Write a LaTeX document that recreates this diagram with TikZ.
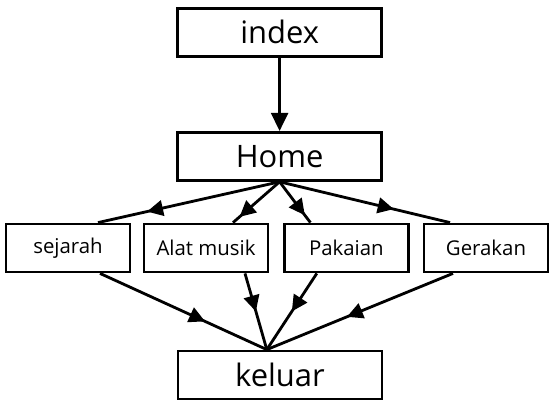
\documentclass[tikz,border=0pt]{standalone}
\usepackage{fontspec}
\setmainfont{Open Sans}
\usepackage{tikz}
\usetikzlibrary{arrows.meta,decorations.markings}

\begin{document}
\begin{tikzpicture}[
    bigbox/.style={rectangle, draw=black, line width=2pt, minimum width=5.1cm, minimum height=1.2cm, text centered, font=\fontsize{22}{24}\selectfont},
    smallbox/.style={rectangle, draw=black, line width=2pt, minimum width=3.1cm, minimum height=1.2cm, text centered, font=\fontsize{14.5}{16}\selectfont},
    link/.style={line width=2pt, decoration={markings, mark=at position #1 with {\arrow{Triangle[length=4mm, width=3.9mm]}}}, postaction={decorate}}
]

\useasboundingbox (0,0) rectangle (13.975,-10.05);

% Top level
\node[bigbox] (index) at (6.99,-0.81) {index};
\node[bigbox] (home) at (6.99,-3.91) {Home};

% Menu pages
\node[smallbox] (sejarah) at (1.7,-6.2) {sejarah};
\node[smallbox] (alat) at (5.15,-6.2) {Alat musik};
\node[smallbox] (pakaian) at (8.66,-6.2) {Pakaian};
\node[smallbox] (gerakan) at (12.15,-6.2) {Gerakan};

% Exit
\node[bigbox] (keluar) at (7.0,-9.375) {keluar};

% index to Home
\draw[line width=2pt, -{Triangle[length=4.5mm, width=4.2mm]}] (index) -- (home);

% Home to menu pages
\draw[link=0.73] (home.south) -- ([xshift=0.75cm]sejarah.north);
\draw[link=0.86] (home.south) -- ([xshift=0.675cm]alat.north);
\draw[link=0.82] (home.south) -- ([xshift=-0.9cm]pakaian.north);
\draw[link=0.67] (home.south) -- ([xshift=-0.9cm]gerakan.north);

% Menu pages to keluar
\draw[link=0.63] ([xshift=0.8cm]sejarah.south) -- ([xshift=-0.33cm]keluar.north);
\draw[link=0.5] ([xshift=0.975cm]alat.south) -- ([xshift=-0.33cm]keluar.north);
\draw[link=0.5] ([xshift=-0.74cm]pakaian.south) -- ([xshift=-0.33cm]keluar.north);
\draw[link=0.57] ([xshift=-0.825cm]gerakan.south) -- ([xshift=-0.33cm]keluar.north);

\end{tikzpicture}
\end{document}
